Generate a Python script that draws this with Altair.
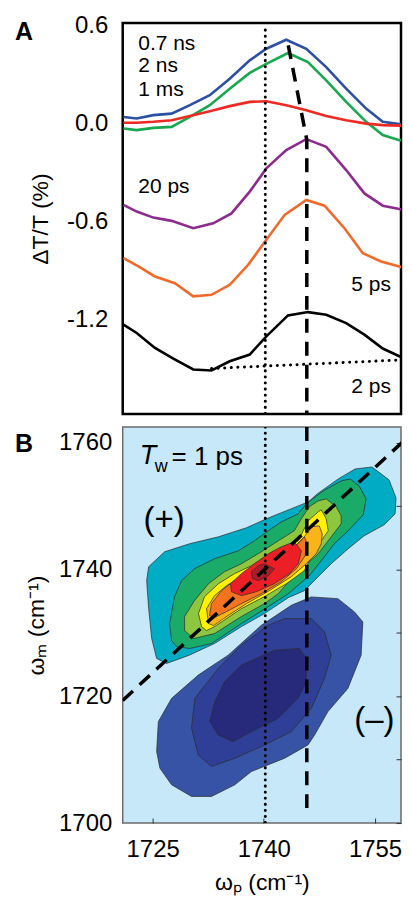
import altair as alt
import pandas as pd

FONT = "Liberation Sans"

# ---------------- Panel A: transient spectra ----------------
a_names = ["0.7 ns", "2 ns", "1 ms", "20 ps", "5 ps", "2 ps"]
a_colors = ["#2d50a4", "#18a84f", "#ee2a24", "#8e2b8f", "#f26a2b", "#000000"]

wp_07ns = [1721.06, 1722.85, 1725.09, 1727.56, 1730.02, 1732.71, 1735.40, 1738.10, 1740.34, 1743.03, 1745.73, 1748.42, 1751.11, 1753.80, 1756.05, 1758.28, 1759.86]
dt_07ns = [0.040, 0.030, 0.051, 0.060, 0.112, 0.173, 0.274, 0.386, 0.457, 0.512, 0.457, 0.345, 0.213, 0.091, 0.010, -0.004, -0.010]

wp_2ns = [1721.06, 1722.85, 1725.09, 1727.56, 1730.02, 1732.71, 1735.40, 1738.10, 1740.34, 1743.26, 1745.95, 1748.42, 1751.11, 1753.80, 1756.05, 1758.28, 1759.86]
dt_2ns = [-0.031, -0.041, -0.027, -0.021, 0.040, 0.112, 0.213, 0.309, 0.365, 0.431, 0.376, 0.264, 0.132, 0.010, -0.071, -0.102, -0.106]

wp_1ms = [1721.06, 1722.85, 1725.09, 1727.56, 1730.02, 1732.71, 1735.40, 1738.10, 1740.34, 1743.03, 1745.73, 1748.42, 1751.11, 1753.80, 1756.05, 1758.28, 1759.86]
dt_1ms = [0.004, 0.004, 0.010, 0.020, 0.045, 0.075, 0.106, 0.132, 0.136, 0.112, 0.081, 0.046, 0.020, -0.001, -0.010, -0.013, -0.013]

wp_20ps = [1721.06, 1722.85, 1725.09, 1727.56, 1730.48, 1733.17, 1735.63, 1738.10, 1740.34, 1743.03, 1745.73, 1748.42, 1751.11, 1753.57, 1756.05, 1758.28, 1759.86]
dt_20ps = [-0.498, -0.539, -0.576, -0.596, -0.641, -0.611, -0.550, -0.417, -0.275, -0.163, -0.096, -0.143, -0.285, -0.428, -0.503, -0.523, -0.544]

wp_5ps = [1721.06, 1723.08, 1725.31, 1728.00, 1730.48, 1732.94, 1735.40, 1737.88, 1740.34, 1742.81, 1745.73, 1748.19, 1750.88, 1753.36, 1755.82, 1758.28, 1759.86]
dt_5ps = [-0.824, -0.875, -0.936, -0.977, -1.058, -1.048, -0.987, -0.865, -0.712, -0.559, -0.468, -0.503, -0.641, -0.794, -0.844, -0.875, -0.901]

wp_2ps = [1721.06, 1722.85, 1725.31, 1727.79, 1730.48, 1732.94, 1735.40, 1738.10, 1740.34, 1743.26, 1745.96, 1748.42, 1751.11, 1753.57, 1756.05, 1758.28, 1759.86]
dt_2ps = [-1.231, -1.282, -1.373, -1.438, -1.505, -1.511, -1.455, -1.414, -1.302, -1.174, -1.154, -1.170, -1.221, -1.292, -1.377, -1.424, -1.444]

# guide lines in panel A
dash_a_wp = [1743.3, 1745.8, 1745.8]
dash_a_dt = [0.478, -0.10, -1.778]
dot_a_wp = [1740.2, 1740.2]
dot_a_dt = [0.571, -1.778]
base_a_wp = [1732.94, 1759.86]
base_a_dt = [-1.499, -1.444]

ann_a_text = ["0.7 ns", "2 ns", "1 ms", "20 ps", "5 ps", "2 ps"]
ann_a_wp = [1723.06, 1723.06, 1723.06, 1723.06, 1751.8, 1751.8]
ann_a_dt = [0.486, 0.351, 0.205, -0.387, -0.991, -1.613]

# ---------------- Panel B: 2D IR contours (filled levels, outer to inner) ----------------
P1_x = [1724.19, 1724.46, 1726.62, 1729.98, 1733.88, 1737.65, 1740.34, 1743.31, 1746.00, 1747.21, 1750.04, 1752.32, 1754.61, 1756.90, 1757.84, 1757.71, 1756.23, 1753.54, 1751.38, 1749.09, 1747.34, 1745.46, 1743.31, 1740.08, 1736.98, 1733.35, 1729.85, 1726.88, 1725.54, 1724.87, 1724.46]
P1_y = [1738.26, 1740.46, 1742.82, 1744.08, 1745.18, 1746.60, 1748.02, 1749.43, 1750.69, 1751.95, 1754.31, 1755.89, 1756.20, 1754.16, 1751.32, 1748.80, 1747.07, 1745.34, 1743.29, 1740.93, 1738.89, 1736.68, 1735.58, 1733.06, 1731.01, 1728.34, 1726.45, 1725.19, 1725.98, 1729.12, 1733.85]
P2_x = [1727.56, 1727.29, 1727.96, 1728.90, 1730.65, 1733.35, 1736.58, 1738.73, 1740.61, 1742.36, 1744.65, 1745.73, 1748.02, 1750.44, 1751.65, 1752.86, 1753.80, 1753.40, 1751.38, 1749.50, 1747.75, 1746.13, 1743.31, 1740.61, 1736.98, 1732.94, 1729.98, 1728.23]
P2_y = [1728.81, 1731.49, 1735.74, 1738.26, 1740.14, 1741.72, 1742.98, 1744.55, 1746.13, 1747.54, 1748.80, 1750.38, 1752.42, 1754.00, 1754.31, 1753.21, 1751.16, 1748.65, 1746.13, 1744.08, 1741.40, 1739.04, 1736.21, 1734.16, 1731.49, 1728.34, 1727.55, 1727.87]
P3_x = [1729.31, 1729.31, 1730.65, 1732.54, 1734.69, 1736.98, 1739.67, 1741.96, 1744.11, 1745.06, 1746.13, 1747.34, 1748.42, 1749.77, 1750.44, 1750.44, 1749.09, 1747.34, 1745.86, 1743.71, 1741.96, 1740.08, 1736.98, 1733.35, 1730.52]
P3_y = [1730.38, 1732.59, 1735.11, 1737.78, 1739.67, 1740.93, 1742.82, 1744.55, 1746.13, 1748.02, 1749.91, 1750.85, 1751.16, 1749.91, 1748.49, 1747.23, 1745.18, 1742.51, 1740.93, 1738.57, 1736.21, 1734.63, 1732.59, 1729.91, 1729.12]
P4_x = [1731.60, 1731.19, 1732.00, 1733.88, 1736.04, 1738.33, 1740.61, 1742.77, 1744.65, 1745.99, 1747.34, 1747.75, 1748.42, 1748.69, 1747.75, 1746.81, 1745.46, 1743.04, 1740.08, 1736.98, 1733.35, 1732.27]
P4_y = [1731.01, 1733.06, 1735.74, 1737.78, 1739.36, 1740.62, 1742.19, 1743.61, 1744.55, 1747.70, 1749.12, 1749.43, 1748.02, 1746.13, 1744.55, 1742.98, 1739.83, 1737.78, 1735.74, 1733.85, 1731.01, 1730.38]
P5_x = [1732.54, 1732.27, 1733.35, 1734.96, 1736.98, 1739.27, 1741.42, 1743.71, 1745.46, 1746.40, 1747.48, 1747.88, 1747.75, 1747.07, 1745.73, 1743.71, 1740.75, 1737.65, 1734.56, 1733.21]
P5_y = [1731.49, 1733.85, 1735.89, 1737.47, 1738.89, 1740.14, 1741.56, 1743.14, 1745.18, 1746.76, 1746.91, 1745.65, 1744.08, 1742.51, 1740.93, 1738.89, 1736.68, 1734.63, 1732.27, 1731.17]
P6_x = [1732.67, 1732.94, 1734.29, 1736.04, 1738.33, 1740.61, 1742.77, 1744.65, 1745.46, 1745.86, 1745.59, 1744.38, 1742.36, 1739.67, 1736.98, 1734.96, 1733.35]
P6_y = [1732.75, 1734.63, 1736.68, 1738.26, 1739.67, 1741.25, 1742.51, 1744.08, 1745.18, 1744.08, 1742.19, 1740.14, 1738.10, 1736.21, 1734.63, 1733.38, 1732.43]
P7_x = [1735.63, 1735.50, 1736.98, 1738.73, 1740.61, 1742.36, 1744.11, 1745.06, 1744.65, 1743.44, 1741.42, 1739.00, 1736.98]
P7_y = [1736.52, 1737.78, 1739.36, 1740.93, 1742.51, 1743.61, 1744.40, 1742.98, 1740.93, 1739.36, 1737.78, 1736.52, 1735.89]
P8_x = [1738.33, 1739.27, 1740.08, 1741.42, 1740.61, 1739.27, 1738.46]
P8_y = [1739.67, 1740.62, 1740.93, 1740.14, 1739.04, 1738.26, 1738.57]

N1_x = [1725.54, 1725.77, 1727.56, 1731.15, 1735.19, 1739.67, 1743.71, 1746.40, 1749.99, 1752.23, 1753.36, 1753.13, 1751.34, 1748.65, 1746.85, 1745.96, 1742.81, 1738.33, 1736.08, 1732.94, 1730.25, 1727.56, 1725.98]
N1_y = [1711.29, 1716.01, 1719.68, 1723.35, 1726.50, 1731.22, 1734.37, 1735.69, 1735.42, 1733.33, 1731.75, 1726.50, 1721.25, 1717.59, 1713.90, 1712.33, 1710.23, 1708.14, 1706.03, 1704.20, 1704.20, 1706.03, 1708.66]
N2_x = [1730.25, 1730.69, 1733.84, 1736.98, 1740.57, 1742.81, 1746.40, 1748.19, 1749.09, 1748.19, 1746.40, 1743.71, 1740.12, 1736.08, 1732.94, 1731.15]
N2_y = [1714.96, 1719.68, 1724.40, 1728.07, 1731.22, 1732.27, 1732.27, 1730.18, 1726.50, 1722.83, 1718.10, 1714.44, 1712.33, 1710.23, 1708.93, 1710.75]
N3_x = [1732.71, 1733.39, 1734.73, 1736.98, 1741.46, 1744.83, 1745.73, 1745.73, 1744.61, 1741.92, 1738.33, 1735.86, 1733.84]
N3_y = [1716.01, 1719.16, 1722.31, 1724.92, 1727.28, 1727.55, 1725.98, 1722.31, 1719.68, 1716.53, 1714.44, 1712.86, 1713.90]

level_names = ["N1", "N2", "N3", "P1", "P2", "P3", "P4", "P5", "P6", "P7", "P8"]
level_colors = ["#3753a5", "#2f3f97", "#27297b", "#00abc4", "#1bab68", "#8dc63f",
                "#fff100", "#fbb417", "#f37321", "#ec1f26", "#b11a2a"]
level_xs = [N1_x, N2_x, N3_x, P1_x, P2_x, P3_x, P4_x, P5_x, P6_x, P7_x, P8_x]
level_ys = [N1_y, N2_y, N3_y, P1_y, P2_y, P3_y, P4_y, P5_y, P6_y, P7_y, P8_y]

# guide lines in panel B
dash_b_wp = [1745.8, 1745.8]
dash_b_wm = [1762.5, 1701.1]
dot_b_wp = [1740.2, 1740.2]
dot_b_wm = [1762.5, 1700.0]
diag_wp = [1720.96, 1759.45]
diag_wm = [1719.36, 1760.93]

# ---------------- scales / axes ----------------
W = 279
HA = 392
HB = 397
x_dom = [1720.96, 1758.51]
xs_a = alt.Scale(domain=x_dom, nice=False, zero=False)
ys_a = alt.Scale(domain=[-1.778, 0.614], nice=False, zero=False)
xs_b = alt.Scale(domain=x_dom, nice=False, zero=False)
ys_b = alt.Scale(domain=[1700, 1762.5], nice=False, zero=False)

axis_a = alt.Axis(values=[0.6, 0.0, -0.6, -1.2], format=".1f",
                  labelExpr="replace(datum.label, '\u2212', '-')",
                  title="ΔT/T (%)", titleFontSize=23, titleFontWeight="normal",
                  labelFontSize=24, labelPadding=15, titlePadding=14,
                  ticks=False, domain=False, grid=False)
axis_bx = alt.Axis(values=[1725, 1740, 1755], format="d", title="ωₚ (cm⁻¹)",
                   titleFontSize=23, titleFontWeight="normal", labelFontSize=24,
                   labelPadding=15, titlePadding=10, ticks=False, domain=False,
                   grid=True, gridColor="#333333", gridWidth=1,
                   gridDash=[0, HB - 5, 5, 3000])
axis_by = alt.Axis(values=[1700, 1710, 1720, 1730, 1740, 1750, 1760], format="d",
                   labelExpr="datum.value % 20 == 0 ? datum.label : ''",
                   title="ωₘ (cm⁻¹)",
                   titleFontSize=23, titleFontWeight="normal", labelFontSize=24,
                   labelPadding=11, titlePadding=10, ticks=False, domain=False,
                   grid=True, gridColor="#333333", gridWidth=1,
                   gridDash=[0, W - 5, 5, 3000])

XA = lambda: alt.X("wp:Q", scale=xs_a, axis=None)
YA = lambda: alt.Y("dt:Q", scale=ys_a, axis=axis_a)
XB = lambda: alt.X("wp:Q", scale=xs_b, axis=axis_bx)
YB = lambda: alt.Y("wm:Q", scale=ys_b, axis=axis_by)

# ---- Panel A ----
rows = []
for name, xs, ys in zip(a_names,
                        [wp_07ns, wp_2ns, wp_1ms, wp_20ps, wp_5ps, wp_2ps],
                        [dt_07ns, dt_2ns, dt_1ms, dt_20ps, dt_5ps, dt_2ps]):
    for i, (xv, yv) in enumerate(zip(xs, ys)):
        rows.append({"series": name, "wp": xv, "dt": yv, "i": i})
df_a = pd.DataFrame(rows)

curves_a = alt.Chart(df_a).mark_line(strokeWidth=2.6, clip=True).encode(
    x=XA(), y=YA(),
    color=alt.Color("series:N", scale=alt.Scale(domain=a_names, range=a_colors), legend=None),
    detail="series:N",
    order="i:Q",
)

def guide_a(wp, dt, **mk):
    df = pd.DataFrame({"wp": wp, "dt": dt, "k": list(range(len(wp)))})
    return alt.Chart(df).mark_line(color="black", clip=True, **mk).encode(x=XA(), y=YA(), order="k:Q")

dash_a = guide_a(dash_a_wp, dash_a_dt, strokeWidth=3.5, strokeDash=[14, 9])
dot_a = guide_a(dot_a_wp, dot_a_dt, strokeWidth=3, strokeDash=[0.1, 6], strokeCap="round")
base_a = guide_a(base_a_wp, base_a_dt, strokeWidth=3, strokeDash=[0.1, 6.5], strokeCap="round")

df_ann_a = pd.DataFrame({"t": ann_a_text, "wp": ann_a_wp, "dt": ann_a_dt})
ann_a = alt.Chart(df_ann_a).mark_text(fontSize=21, align="left", baseline="middle", color="black").encode(
    x=XA(), y=YA(), text="t:N")

lab_a = alt.Chart(pd.DataFrame({"t": ["A"]})).mark_text(
    fontSize=25, fontWeight="bold", align="left", baseline="middle", color="black").encode(
    text="t:N", x=alt.value(-108), y=alt.value(9))

panel_a = alt.layer(curves_a, dot_a, dash_a, base_a, ann_a, lab_a).properties(
    width=W, height=HA,
    view=alt.ViewBackground(stroke="black", strokeWidth=2.5, fill="white"))

# ---- Panel B ----
layers_b = []
for nm, col, xs, ys in zip(level_names, level_colors, level_xs, level_ys):
    dfl = pd.DataFrame({"wp": xs, "wm": ys, "k": list(range(len(xs)))})
    layers_b.append(
        alt.Chart(dfl).mark_line(interpolate="linear-closed", fill=col, stroke="#2b2b2b",
                                 strokeWidth=0.7, clip=True).encode(x=XB(), y=YB(), order="k:Q")
    )

def guide_b(wp, wm, **mk):
    df = pd.DataFrame({"wp": wp, "wm": wm, "k": list(range(len(wp)))})
    return alt.Chart(df).mark_line(color="black", clip=True, **mk).encode(x=XB(), y=YB(), order="k:Q")

dot_b = guide_b(dot_b_wp, dot_b_wm, strokeWidth=3, strokeDash=[0.1, 6], strokeCap="round")
dash_b = guide_b(dash_b_wp, dash_b_wm, strokeWidth=3.5, strokeDash=[14, 9])
diag_b = guide_b(diag_wp, diag_wm, strokeWidth=3.5, strokeDash=[14, 9])

def text_b(t, wp, wm, **mk):
    df = pd.DataFrame({"t": t, "wp": wp, "wm": wm})
    return alt.Chart(df).mark_text(baseline="middle", color="black", **mk).encode(
        x=XB(), y=YB(), text="t:N")

tw_T = text_b(["T"], [1723.25], [1757.93], fontSize=27, fontStyle="italic", align="left")
tw_w = text_b(["w"], [1725.27], [1756.2], fontSize=18, align="left")
tw_rest = text_b(["= 1 ps"], [1727.56], [1757.78], fontSize=26, align="left")
signs = text_b(["(+)", "(\u2013)"], [1726.55, 1754.92], [1747.75, 1716.26], fontSize=33, align="center")

lab_b = alt.Chart(pd.DataFrame({"t": ["B"]})).mark_text(
    fontSize=25, fontWeight="bold", align="left", baseline="middle", color="black").encode(
    text="t:N", x=alt.value(-108), y=alt.value(17))

panel_b = alt.layer(*layers_b, dot_b, dash_b, diag_b, tw_T, tw_w, tw_rest, signs, lab_b).properties(
    width=W, height=HB,
    view=alt.ViewBackground(stroke="#6b6b6b", strokeWidth=1.5, fill="#c6e8f8"))

chart = alt.vconcat(panel_a, panel_b, spacing=10).properties(
    padding={"left": 5, "top": 3, "right": 0, "bottom": 0}
).configure(font=FONT).configure_axis(labelColor="black", titleColor="black",
                                      labelFont=FONT, titleFont=FONT).configure_text(font=FONT)

chart.save("out.html", embed_options={"renderer": "svg", "actions": False})
